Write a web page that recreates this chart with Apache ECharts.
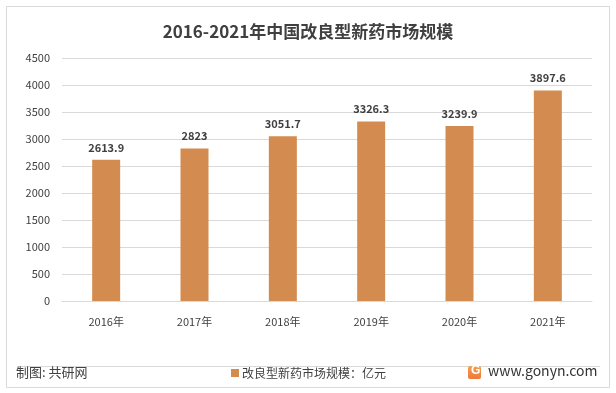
<!DOCTYPE html>
<html>
<head>
<meta charset="utf-8">
<script src="https://cdn.jsdelivr.net/npm/echarts@6/dist/echarts.min.js"></script>
<style>
html,body{margin:0;padding:0;background:#fff;}
#c{width:616px;height:393px;}
</style>
</head>
<body>
<div id="c"></div>
<script>
const titleText = '2016-2021年中国改良型新药市场规模';
const categories = ['2016年','2017年','2018年','2019年','2020年','2021年'];
const seriesName = '改良型新药市场规模：亿元';
const values = [2613.9, 2823, 3051.7, 3326.3, 3239.9, 3897.6];
const yTicks = [0, 500, 1000, 1500, 2000, 2500, 3000, 3500, 4000, 4500];
const sourceText = '制图: 共研网';
const siteText = 'www.gonyn.com';

const font = '"Microsoft YaHei","Noto Sans CJK SC",sans-serif';
const chart = echarts.init(document.getElementById('c'), null, {renderer:'canvas'});
chart.setOption({
  animation:false,
  backgroundColor:'#fff',
  title:{text:titleText,left:'center',top:18,textStyle:{fontFamily:font,fontSize:17,fontWeight:'bold',color:'#404040'}},
  grid:{left:62,right:24,top:58,bottom:92},
  legend:{
    data:[seriesName],left:226,top:362,itemWidth:8,itemHeight:8,itemGap:4,icon:'rect',
    textStyle:{fontFamily:font,fontSize:12,color:'#404040',padding:[0,0,0,-2]}
  },
  xAxis:{
    type:'category',data:categories,
    axisLine:{lineStyle:{color:'#d9d9d9'}},axisTick:{show:false},
    axisLabel:{fontFamily:font,fontSize:11,color:'#404040',margin:15}
  },
  yAxis:{
    type:'value',min:yTicks[0],max:yTicks[yTicks.length-1],interval:500,
    axisLine:{show:false},axisTick:{show:false},
    splitLine:{lineStyle:{color:'#d9d9d9'}},
    axisLabel:{fontFamily:font,fontSize:11,color:'#404040',margin:12,formatter:v=>String(v)}
  },
  series:[{
    name:seriesName,type:'bar',data:values,barWidth:28,
    itemStyle:{color:'#D38B4F'},
    label:{show:true,position:'top',distance:7,fontFamily:font,fontSize:11,fontWeight:'bold',color:'#404040'}
  }],
  graphic:[
    {type:'rect',shape:{x:6.5,y:6.5,width:603,height:381},style:{fill:'none',stroke:'#d9d9d9',lineWidth:1},silent:true},
    {type:'line',shape:{x1:18,y1:366.5,x2:600,y2:366.5},style:{stroke:'#d9d9d9',lineWidth:1}},
    {type:'text',left:16,top:366,style:{text:sourceText,font:'13px '+font,fill:'#404040'}},
    {type:'rect',shape:{x:468,y:366,width:13,height:13,r:2},style:{fill:new echarts.graphic.LinearGradient(0,0,0,1,[{offset:0,color:'#F5A04A'},{offset:1,color:'#F0763C'}])}},
    {type:'text',left:471,top:365,style:{text:'G',font:'bold 12px sans-serif',fill:'#fff'}},
    {type:'text',left:488,top:364,style:{text:siteText,font:'14px '+font,fill:'#333'}}
  ]
});
</script>
</body>
</html>
